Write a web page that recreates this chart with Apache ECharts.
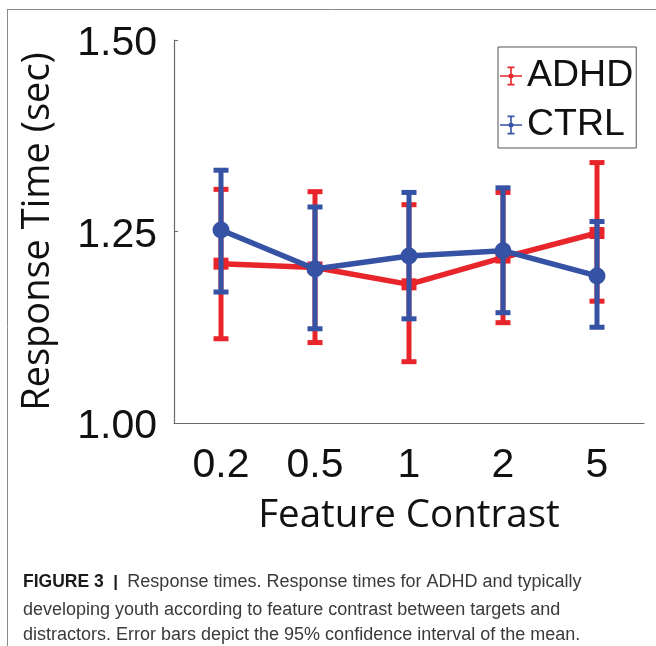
<!DOCTYPE html>
<html><head><meta charset="utf-8">
<script src="https://cdn.jsdelivr.net/npm/echarts@6/dist/echarts.min.js"></script>
<style>html,body{margin:0;padding:0;background:#fff}#c{width:656px;height:646px}</style>
</head><body><div id="c"></div>
<script>
const categories = ['0.2', '0.5', '1', '2', '5'];
const adhdMean = [1.208, 1.203, 1.181, 1.216, 1.248];
const adhdLow  = [1.110, 1.105, 1.080, 1.131, 1.159];
const adhdHigh = [1.305, 1.302, 1.285, 1.301, 1.340];
const ctrlMean = [1.252, 1.201, 1.218, 1.225, 1.192];
const ctrlLow  = [1.171, 1.123, 1.136, 1.144, 1.125];
const ctrlHigh = [1.330, 1.282, 1.301, 1.307, 1.263];
const yMin = 1.00, yMax = 1.50, yStep = 0.25;
const captionBold = 'FIGURE 3';
const captionLines = [
  'Response times. Response times for ADHD and typically',
  'developing youth according to feature contrast between targets and',
  'distractors. Error bars depict the 95% confidence interval of the mean.'
];

const RED = '#E8252B', BLUE = '#3552A4';
const iconPath = 'path://M0 10.2H22V11.8H0Z M10.2 2H11.8V20H10.2Z M7.5 1.5H14.5V3.2H7.5Z M7.5 18.8H14.5V20.5H7.5Z M8.5 11A2.5 2.5 0 1 1 13.5 11A2.5 2.5 0 1 1 8.5 11Z';

function errData(lo, hi) { return lo.map((v, i) => [i, v, hi[i]]); }
function errRender(color) {
  return function (params, api) {
    const x = api.value(0);
    const a = api.coord([x, api.value(1)]);
    const b = api.coord([x, api.value(2)]);
    const hw = 7.5;
    const st = { stroke: color, lineWidth: 5 };
    return { type: 'group', children: [
      { type: 'line', shape: { x1: a[0], y1: a[1], x2: b[0], y2: b[1] }, style: st },
      { type: 'line', shape: { x1: a[0] - hw, y1: a[1], x2: a[0] + hw, y2: a[1] }, style: st },
      { type: 'line', shape: { x1: b[0] - hw, y1: b[1], x2: b[0] + hw, y2: b[1] }, style: st }
    ]};
  };
}

const capFont = '18px "Liberation Sans"';
const chart = echarts.init(document.getElementById('c'), null, { renderer: 'canvas' });
chart.setOption({
  animation: false,
  backgroundColor: '#fff',
  grid: { left: 174, right: 12, top: 40, bottom: 223 },
  xAxis: {
    type: 'category', data: categories, boundaryGap: true,
    name: 'Feature Contrast', nameLocation: 'middle', nameGap: 74,
    nameTextStyle: { fontFamily: 'Open Sans', fontSize: 38.5, color: '#111' },
    axisLine: { lineStyle: { color: '#6a6a6a', width: 1.2 } },
    axisTick: { alignWithLabel: true, inside: true, length: 4, lineStyle: { color: '#6a6a6a' } },
    axisLabel: { fontFamily: 'Liberation Sans', fontSize: 41, color: '#111', margin: 22 },
    splitLine: { show: false }
  },
  yAxis: {
    type: 'value', min: yMin, max: yMax, interval: yStep,
    name: 'Response Time (sec)', nameLocation: 'middle', nameGap: 117,
    nameTextStyle: { fontFamily: 'Open Sans', fontSize: 38, color: '#111' },
    axisLine: { show: true, lineStyle: { color: '#6a6a6a', width: 1.2 } },
    axisTick: { show: true, inside: true, length: 4, lineStyle: { color: '#6a6a6a' } },
    axisLabel: { color: '#111', margin: 17,
      formatter: v => '{t|' + v.toFixed(2) + '}',
      rich: { t: { fontFamily: 'Liberation Sans', fontSize: 41, color: '#111', padding: [8, 0, 0, 0] } } },
    splitLine: { show: false }
  },
  legend: {
    orient: 'vertical', left: 498, top: 47,
    borderColor: '#555', borderWidth: 1, backgroundColor: '#fff',
    padding: [9, 3, 3, 2], itemGap: 9, itemWidth: 22, itemHeight: 20, itemTextGap: 5,
    textStyle: { fontFamily: 'Liberation Sans', fontSize: 37.5, color: '#111', lineHeight: 40 },
    data: [
      { name: 'ADHD', icon: iconPath, itemStyle: { color: RED } },
      { name: 'CTRL', icon: iconPath, itemStyle: { color: BLUE } }
    ]
  },
  series: [
    { name: 'ADHD', type: 'custom', z: 2, data: errData(adhdLow, adhdHigh), renderItem: errRender(RED),
      itemStyle: { color: RED } },
    { name: 'ADHD', type: 'line', z: 3, data: adhdMean, symbol: 'rect', symbolSize: [15, 12],
      lineStyle: { color: RED, width: 5.5 }, itemStyle: { color: RED } },
    { name: 'CTRL', type: 'custom', z: 4, data: errData(ctrlLow, ctrlHigh), renderItem: errRender(BLUE),
      itemStyle: { color: BLUE } },
    { name: 'CTRL', type: 'line', z: 5, data: ctrlMean, symbol: 'circle', symbolSize: 17,
      lineStyle: { color: BLUE, width: 5.5 }, itemStyle: { color: BLUE } }
  ],
  graphic: [
    { type: 'line', shape: { x1: 7, y1: 9.5, x2: 656, y2: 9.5 }, style: { stroke: '#8a8a8a', lineWidth: 1 } },
    { type: 'line', shape: { x1: 7.5, y1: 9, x2: 7.5, y2: 646 }, style: { stroke: '#8a8a8a', lineWidth: 1 } },
    { type: 'text', left: 23, top: 573, style: {
        text: '{b|' + captionBold + '}{bar|  |  }' + captionLines[0],
        font: capFont, fill: '#3a3a3a',
        rich: {
          b: { fontFamily: 'Liberation Sans', fontWeight: 'bold', fontSize: 17.5, fill: '#1a1a1a' },
          bar: { fontFamily: 'Liberation Sans', fontWeight: 'bold', fontSize: 17, fill: '#1a1a1a' }
        } } },
    { type: 'text', left: 23, top: 601, style: { text: captionLines[1], font: capFont, fill: '#3a3a3a' } },
    { type: 'text', left: 23, top: 626, style: { text: captionLines[2], font: capFont, fill: '#3a3a3a' } }
  ]
});
</script>
</body></html>
